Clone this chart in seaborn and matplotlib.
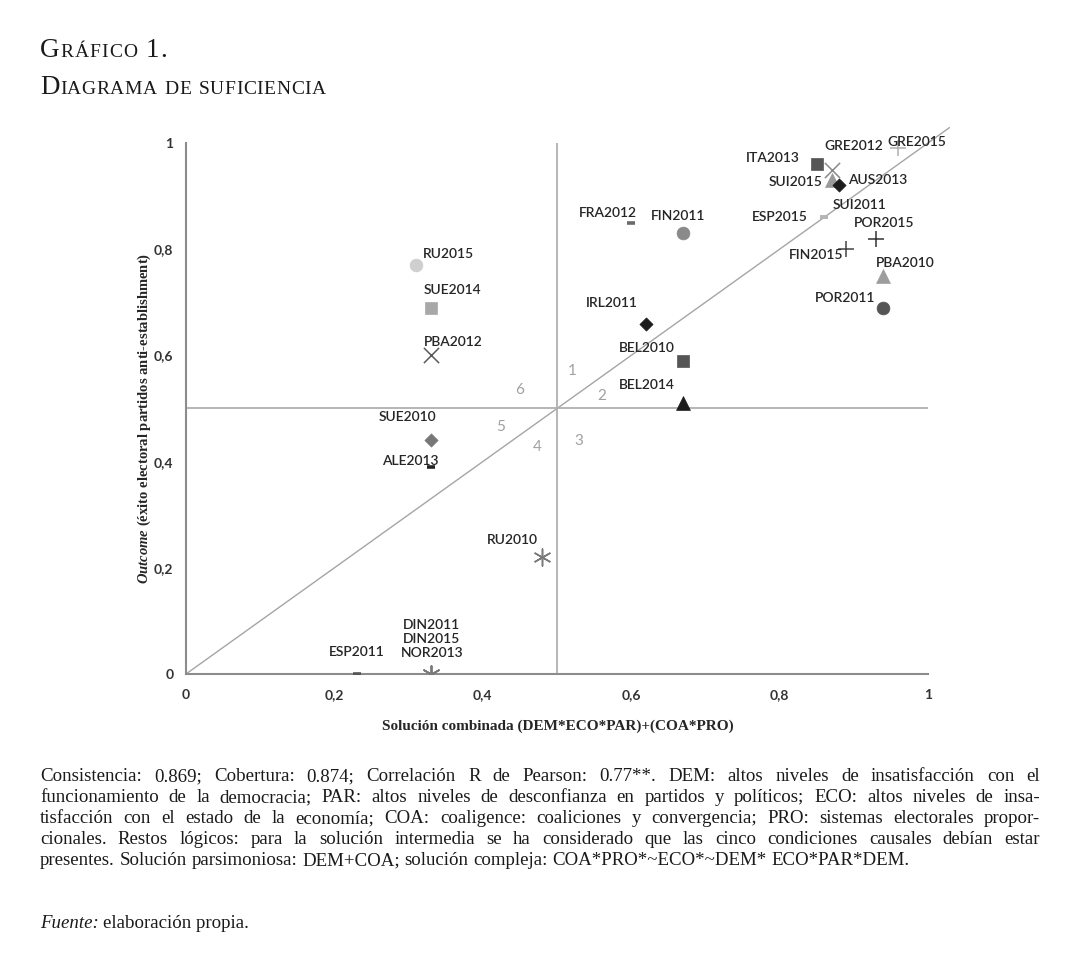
import matplotlib
matplotlib.use('Agg')
import matplotlib.pyplot as plt
import numpy as np
import pandas as pd
import seaborn as sns

# casos y valores
cases = ['GRE2015', 'GRE2012', 'ITA2013', 'SUI2015', 'AUS2013', 'SUI2011', 'ESP2015',
         'FRA2012', 'FIN2011', 'POR2015', 'FIN2015', 'PBA2010', 'POR2011',
         'RU2015', 'SUE2014', 'PBA2012', 'IRL2011', 'BEL2010', 'BEL2014',
         'SUE2010', 'ALE2013', 'RU2010', 'DIN2011', 'DIN2015', 'NOR2013', 'ESP2011']
solution = [0.96, 0.87, 0.85, 0.87, 0.88, 0.86, 0.86,
            0.60, 0.67, 0.93, 0.89, 0.94, 0.94,
            0.31, 0.33, 0.33, 0.62, 0.67, 0.67,
            0.33, 0.33, 0.48, 0.33, 0.33, 0.33, 0.23]
outcome = [0.99, 0.95, 0.96, 0.93, 0.92, 0.86, 0.86,
           0.85, 0.83, 0.82, 0.80, 0.75, 0.69,
           0.77, 0.69, 0.60, 0.66, 0.59, 0.51,
           0.44, 0.39, 0.22, 0.0, 0.0, 0.0, 0.0]

tick_vals = [0, 0.2, 0.4, 0.6, 0.8, 1]
tick_labels = ['0', '0,2', '0,4', '0,6', '0,8', '1']

zone_ids = ['1', '2', '3', '4', '5', '6']
zone_x = [0.521, 0.560, 0.530, 0.473, 0.424, 0.449]
zone_y = [0.571, 0.524, 0.439, 0.428, 0.465, 0.535]

notes = [
    'Consistencia: 0.869; Cobertura: 0.874; Correlación R de Pearson: 0.77**. DEM: altos niveles de insatisfacción con el',
    'funcionamiento de la democracia; PAR: altos niveles de desconfianza en partidos y políticos; ECO: altos niveles de insa-',
    'tisfacción con el estado de la economía; COA: coaligence: coaliciones y convergencia; PRO: sistemas electorales propor-',
    'cionales. Restos lógicos: para la solución intermedia se ha considerado que las cinco condiciones causales debían estar',
    'presentes. Solución parsimoniosa: DEM+COA; solución compleja: COA*PRO*~ECO*~DEM* ECO*PAR*DEM.',
]

# estilo de cada caso
AST = (6, 2, 0)
marker_of = {
    'GRE2015': '+', 'GRE2012': 'x', 'ITA2013': 's', 'SUI2015': '^', 'AUS2013': 'D',
    'SUI2011': '_', 'ESP2015': '_', 'FRA2012': '_', 'FIN2011': 'o', 'POR2015': '+',
    'FIN2015': '+', 'PBA2010': '^', 'POR2011': 'o', 'RU2015': 'o', 'SUE2014': 's',
    'PBA2012': 'x', 'IRL2011': 'D', 'BEL2010': 's', 'BEL2014': '^', 'SUE2010': 'D',
    'ALE2013': '_', 'RU2010': AST, 'DIN2011': AST, 'DIN2015': AST, 'NOR2013': AST,
    'ESP2011': '_',
}
color_of = {
    'GRE2015': '#b0b0b0', 'GRE2012': '#8a8a8a', 'ITA2013': '#555555', 'SUI2015': '#9a9a9a',
    'AUS2013': '#1c1c1c', 'SUI2011': '#b5b5b5', 'ESP2015': '#b5b5b5', 'FRA2012': '#6a6a6a',
    'FIN2011': '#8a8a8a', 'POR2015': '#333333', 'FIN2015': '#444444', 'PBA2010': '#9d9d9d',
    'POR2011': '#555555', 'RU2015': '#cfcfcf', 'SUE2014': '#a8a8a8', 'PBA2012': '#5a5a5a',
    'IRL2011': '#1c1c1c', 'BEL2010': '#555555', 'BEL2014': '#1c1c1c', 'SUE2010': '#777777',
    'ALE2013': '#222222', 'RU2010': '#7a7a7a', 'DIN2011': '#7a7a7a', 'DIN2015': '#7a7a7a',
    'NOR2013': '#7a7a7a', 'ESP2011': '#555555',
}
size_of = {'+': 120, 'x': 120, 's': 85, 'o': 85, '^': 100, 'D': 45, '_': 35, str(AST): 150}

# posicion de las etiquetas (pixeles respecto al marcador)
label_pos = {
    'GRE2015': (-11, 6, 'left'), 'GRE2012': (-7, 24, 'left'), 'ITA2013': (-17, 6, 'right'),
    'SUI2015': (-9, -2, 'right'), 'AUS2013': (9, 5, 'left'), 'SUI2011': (9, 12, 'left'),
    'ESP2015': (-16, 0, 'right'), 'FRA2012': (6, 10, 'right'), 'FIN2011': (-5, 17, 'center'),
    'POR2015': (8, 16, 'center'), 'FIN2015': (-3, -6, 'right'), 'PBA2010': (22, 13, 'center'),
    'POR2011': (-8, 10, 'right'), 'RU2015': (7, 11, 'left'), 'SUE2014': (-7, 18, 'left'),
    'PBA2012': (-7, 13, 'left'), 'IRL2011': (-8, 21, 'right'), 'BEL2010': (-8, 13, 'right'),
    'BEL2014': (-8, 18, 'right'), 'SUE2010': (-23, 23, 'center'), 'ALE2013': (-21, 6, 'center'),
    'RU2010': (-4, 17, 'right'), 'DIN2011': (1, 49, 'center'), 'DIN2015': (1, 35, 'center'),
    'NOR2013': (1, 21, 'center'), 'ESP2011': (0, 22, 'center'),
}

df = pd.DataFrame({'case': cases, 'solution': solution, 'outcome': outcome})

sns.set_theme(style='white')
plt.rcParams['font.family'] = ['Lato', 'DejaVu Sans']
plt.rcParams['mathtext.fontset'] = 'custom'
plt.rcParams['mathtext.it'] = 'Liberation Serif:italic:bold'
plt.rcParams['mathtext.rm'] = 'Liberation Serif:bold'

fig = plt.figure(figsize=(10.8, 9.75), dpi=100)
LIM = 1.03
ax = fig.add_axes([186 / 1080, 301 / 975, 742 * LIM / 1080, 531 * LIM / 975])

# lineas de referencia
ax.axline((0, 0), slope=1, color='#a5a5a5', lw=1.0, zorder=1)
ax.vlines(0.5, 0, 1, color='#b0b0b0', lw=1.3, zorder=1)
ax.hlines(0.5, 0, 1, color='#b0b0b0', lw=1.3, zorder=1)

for _, row in df.iterrows():
    m = marker_of[row.case]
    c = color_of[row.case]
    kw = dict(marker=m, color=c, s=size_of[str(m)], ax=ax, zorder=3, legend=False)
    if m in ('+', 'x', '_', AST):
        kw['linewidth'] = 2.6 if m == '_' else 1.1
    else:
        kw['edgecolor'] = c
        kw['linewidth'] = 0.5
    sns.scatterplot(x=[row.solution], y=[row.outcome], **kw)
    dx, dy, ha = label_pos[row.case]
    ax.annotate(row.case, (row.solution, row.outcome), xytext=(dx, dy),
                textcoords='offset pixels', ha=ha, va='center',
                fontsize=10, fontweight='semibold', color='#262626', zorder=4)

for zid, zx, zy in zip(zone_ids, zone_x, zone_y):
    ax.text(zx, zy, zid, fontsize=11, color='#a0a0a0', ha='center', va='center')

ax.set_xlim(0, LIM)
ax.set_ylim(0, LIM)
ax.set_xlabel('')
ax.set_ylabel('')
for side in ['top', 'right']:
    ax.spines[side].set_visible(False)
for side in ['left', 'bottom']:
    ax.spines[side].set_bounds(0, 1)
    ax.spines[side].set_color('#8c8c8c')
    ax.spines[side].set_linewidth(1.5)

ax.set_xticks(tick_vals)
ax.set_xticklabels(tick_labels)
ax.set_yticks(tick_vals)
ax.set_yticklabels(tick_labels)
ax.set_xticks(np.arange(0, 1.001, 0.04), minor=True)
ax.set_yticks(np.arange(0, 1.001, 0.04), minor=True)
ax.tick_params(axis='x', which='major', direction='out', length=4, width=1.3,
               color='#8c8c8c', pad=7, labelsize=10, labelcolor='#333333')
ax.tick_params(axis='x', which='minor', direction='out', length=3, width=1.1, color='#8c8c8c')
ax.tick_params(axis='y', which='major', direction='inout', length=8, width=1.3,
               color='#8c8c8c', pad=5, labelsize=10, labelcolor='#333333')
ax.tick_params(axis='y', which='minor', direction='in', length=3, width=1.1, color='#8c8c8c')
for t in ax.get_xticklabels() + ax.get_yticklabels():
    t.set_fontweight('bold')

# rotulos de los ejes
fig.text(558 / 1080, 1 - 726 / 975, 'Solución combinada (DEM*ECO*PAR)+(COA*PRO)',
         family='Liberation Serif', fontweight='bold', fontsize=11,
         color='#262626', ha='center', va='center')
fig.text(144 / 1080, 1 - 418 / 975,
         r'$\mathit{Outcome}$ (éxito electoral partidos anti-establishment)',
         family='Liberation Serif', fontweight='bold', fontsize=10.5,
         color='#262626', ha='center', va='center', rotation=90)

renderer = fig.canvas.get_renderer()
W = fig.bbox.width


def width_of(s, **kw):
    t = fig.text(0, 0, s, **kw)
    w = t.get_window_extent(renderer).width / W
    t.remove()
    return w


def small_caps(x, y, text, big, small, track=1.0):
    # versalitas: mayusculas grandes, minusculas como mayusculas pequenas
    for ch in text:
        size = small if ch.islower() else big
        t = fig.text(x, y, ch.upper(), family='Liberation Serif',
                     fontsize=size, color='#1a1a1a', va='baseline')
        if ch == ' ':
            x += width_of('a a', family='Liberation Serif', fontsize=size) - \
                width_of('aa', family='Liberation Serif', fontsize=size)
        else:
            x += t.get_window_extent(renderer).width / W
        x += track / W


small_caps(40 / 1080, 1 - 57 / 975, 'Gráfico 1.', 19.5, 14, track=1.0)
small_caps(40 / 1080, 1 - 94 / 975, 'Diagrama de suficiencia', 19.5, 14, track=0.5)

# notas justificadas
x0, x1 = 40 / 1080, 1040 / 1080
note_kw = dict(family='Liberation Serif', color='#1a1a1a', va='baseline', fontsize=13.6)
space = width_of('a a', **note_kw) - width_of('aa', **note_kw)

for i, line in enumerate(notes):
    y = 1 - (781 + 21 * i) / 975
    words = line.split(' ')
    texts = [fig.text(0, y, w, **note_kw) for w in words]
    widths = [t.get_window_extent(renderer).width / W for t in texts]
    if i < len(notes) - 1:
        gap = (x1 - x0 - sum(widths)) / (len(words) - 1)
    else:
        gap = space
    x = x0
    for t, w in zip(texts, widths):
        t.set_x(x)
        x += w + gap

src = fig.text(x0, 1 - 928 / 975, 'Fuente:', style='italic', **note_kw)
xs = x0 + src.get_window_extent(renderer).width / W + space
fig.text(xs, 1 - 928 / 975, 'elaboración propia.', **note_kw)

fig.savefig('out.png', dpi=100, facecolor='white')
